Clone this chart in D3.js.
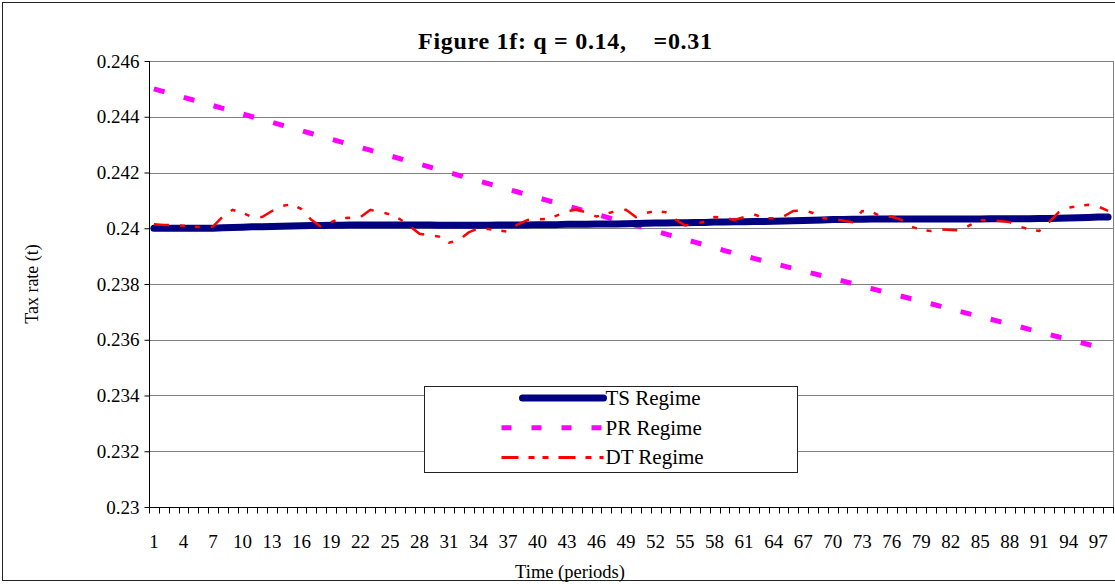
<!DOCTYPE html>
<head>
    <meta charset="utf-8">
    <script src="https://d3js.org/d3.v7.min.js"></script>
</head>
<body style="margin: 0; background: white">
    <div id="my_dataviz"></div>
    <script>
        // periods 1..98
        var periods = d3.range(1, 99)

        var tsValues = [
            0.24000, 0.24000, 0.24000, 0.24000, 0.24000, 0.24000, 0.24000, 0.24002, 0.24003, 0.24004,
            0.24005, 0.24005, 0.24006, 0.24007, 0.24008, 0.24009, 0.24010, 0.24010, 0.24011, 0.24011,
            0.24012, 0.24012, 0.24012, 0.24012, 0.24012, 0.24012, 0.24012, 0.24012, 0.24012, 0.24011,
            0.24011, 0.24011, 0.24011, 0.24011, 0.24011, 0.24012, 0.24012, 0.24012, 0.24012, 0.24013,
            0.24013, 0.24013, 0.24014, 0.24014, 0.24014, 0.24015, 0.24015, 0.24015, 0.24016, 0.24017,
            0.24018, 0.24019, 0.24019, 0.24020, 0.24020, 0.24021, 0.24021, 0.24022, 0.24022, 0.24023,
            0.24023, 0.24024, 0.24024, 0.24025, 0.24026, 0.24027, 0.24028, 0.24029, 0.24030, 0.24031,
            0.24031, 0.24032, 0.24032, 0.24033, 0.24033, 0.24033, 0.24033, 0.24033, 0.24033, 0.24033,
            0.24033, 0.24033, 0.24033, 0.24033, 0.24033, 0.24034, 0.24034, 0.24034, 0.24034, 0.24034,
            0.24035, 0.24035, 0.24036, 0.24037, 0.24038, 0.24039, 0.24040, 0.24040
        ]

        var prValues = [
            0.24500, 0.24490, 0.24480, 0.24470, 0.24460, 0.24450, 0.24440, 0.24430, 0.24420, 0.24410,
            0.24400, 0.24390, 0.24380, 0.24370, 0.24360, 0.24350, 0.24340, 0.24330, 0.24320, 0.24310,
            0.24300, 0.24290, 0.24280, 0.24270, 0.24260, 0.24250, 0.24240, 0.24230, 0.24220, 0.24210,
            0.24200, 0.24190, 0.24180, 0.24170, 0.24160, 0.24150, 0.24140, 0.24130, 0.24120, 0.24110,
            0.24100, 0.24090, 0.24080, 0.24070, 0.24060, 0.24050, 0.24040, 0.24030, 0.24020, 0.24010,
            0.24000, 0.23990, 0.23980, 0.23970, 0.23960, 0.23950, 0.23940, 0.23930, 0.23920, 0.23910,
            0.23901, 0.23892, 0.23883, 0.23874, 0.23865, 0.23856, 0.23847, 0.23838, 0.23829, 0.23820,
            0.23811, 0.23802, 0.23792, 0.23783, 0.23774, 0.23765, 0.23756, 0.23747, 0.23738, 0.23729,
            0.23720, 0.23710, 0.23701, 0.23692, 0.23683, 0.23674, 0.23665, 0.23656, 0.23647, 0.23637,
            0.23628, 0.23619, 0.23610, 0.23601, 0.23592, 0.23583, 0.23574, 0.23560
        ]

        var dtValues = [
            0.24014, 0.24012, 0.24011, 0.24009, 0.24006, 0.24004, 0.24006, 0.24042, 0.24066, 0.24055,
            0.24040, 0.24040, 0.24062, 0.24080, 0.24086, 0.24069, 0.24030, 0.24005, 0.24022, 0.24036,
            0.24038, 0.24040, 0.24066, 0.24058, 0.24050, 0.24033, 0.24008, 0.23980, 0.23975, 0.23970,
            0.23948, 0.23958, 0.23985, 0.24000, 0.23997, 0.23992, 0.23988, 0.24014, 0.24030, 0.24032,
            0.24034, 0.24046, 0.24060, 0.24068, 0.24056, 0.24042, 0.24052, 0.24062, 0.24066, 0.24040,
            0.24055, 0.24062, 0.24058, 0.24032, 0.24010, 0.24016, 0.24024, 0.24040, 0.24038, 0.24030,
            0.24040, 0.24050, 0.24036, 0.24036, 0.24042, 0.24062, 0.24064, 0.24055, 0.24037, 0.24033,
            0.24028, 0.24022, 0.24062, 0.24058, 0.24040, 0.24042, 0.24030, 0.24006, 0.23994, 0.23990,
            0.23996, 0.23994, 0.23992, 0.24012, 0.24030, 0.24028, 0.24026, 0.24022, 0.24006, 0.23996,
            0.23990, 0.24022, 0.24058, 0.24074, 0.24080, 0.24084, 0.24078, 0.24062
        ]

        var yTicks = [0.23, 0.232, 0.234, 0.236, 0.238, 0.24, 0.242, 0.244, 0.246]
        var xLabels = d3.range(1, 99, 3)
        var seriesNames = ["TS Regime", "PR Regime", "DT Regime"]

        var W = 1115, H = 584
        var margin = { left: 149, right: 1113, top: 61, bottom: 507 }
        var font = "'Liberation Serif', 'Times New Roman', serif"

        var svg = d3.select("#my_dataviz")
            .append("svg")
            .attr("width", W)
            .attr("height", H)
            .style("display", "block")

        // chart frame
        svg.append("rect")
            .attr("x", 2.5).attr("y", 2.5)
            .attr("width", W + 10).attr("height", 578)
            .attr("fill", "white")
            .attr("stroke", "#222")

        var x = d3.scaleBand()
            .domain(periods)
            .range([margin.left, margin.right])
        var y = d3.scaleLinear()
            .domain([0.23, 0.246])
            .range([margin.bottom, margin.top])
        var cx = function (p) { return x(p) + x.bandwidth() / 2 }

        // gridlines
        svg.append("g").selectAll("line")
            .data(yTicks.slice(1))
            .enter().append("line")
            .attr("x1", margin.left).attr("x2", margin.right)
            .attr("y1", function (d) { return Math.round(y(d)) + 0.5 })
            .attr("y2", function (d) { return Math.round(y(d)) + 0.5 })
            .attr("stroke", "#808080")
        svg.append("line")
            .attr("x1", margin.right + 0.5).attr("x2", margin.right + 0.5)
            .attr("y1", margin.top).attr("y2", margin.bottom)
            .attr("stroke", "#808080")

        // y axis
        var yAxis = svg.append("g")
            .attr("transform", "translate(" + (margin.left + 0.5) + ",0)")
            .call(d3.axisLeft(y).tickValues(yTicks).tickSize(5).tickPadding(5)
                .tickFormat(function (d) { return String(+d.toFixed(3)) }))
        yAxis.select(".domain").attr("stroke", "#000")
            .attr("d", "M0," + margin.top + "V" + margin.bottom)
        yAxis.selectAll(".tick line").attr("stroke", "#000")
        yAxis.selectAll("text").style("font-family", font).style("font-size", "19px").attr("fill", "#000")

        // x axis: ticks between categories, labels every third period
        var xAxis = svg.append("g")
            .attr("transform", "translate(0," + (margin.bottom + 0.5) + ")")
        xAxis.append("line")
            .attr("x1", margin.left).attr("x2", margin.right + 1)
            .attr("stroke", "#000")
        xAxis.selectAll(".tk")
            .data(periods.concat([99]))
            .enter().append("line")
            .attr("class", "tk")
            .attr("x1", function (d) { return Math.round(d == 99 ? margin.right : x(d)) + 0.5 })
            .attr("x2", function (d) { return Math.round(d == 99 ? margin.right : x(d)) + 0.5 })
            .attr("y1", 0).attr("y2", 6)
            .attr("stroke", "#000")
        xAxis.selectAll(".lb")
            .data(xLabels)
            .enter().append("text")
            .attr("class", "lb")
            .attr("x", function (d) { return cx(d) })
            .attr("y", 40)
            .attr("text-anchor", "middle")
            .style("font-family", font).style("font-size", "19px")
            .text(function (d) { return d })

        // lines
        var line = function (vals) {
            return d3.line()
                .x(function (d, i) { return cx(periods[i]) })
                .y(function (d) { return y(d) })(vals)
        }
        svg.append("path")
            .attr("d", line(prValues))
            .attr("fill", "none")
            .attr("stroke", "#FF00FF")
            .attr("stroke-width", 5)
            .attr("stroke-dasharray", "11,20")
        svg.append("path")
            .attr("d", line(tsValues))
            .attr("fill", "none")
            .attr("stroke", "#000080")
            .attr("stroke-width", 7)
            .attr("stroke-linecap", "round")
            .attr("stroke-linejoin", "round")
        svg.append("path")
            .attr("d", line(dtValues))
            .attr("fill", "none")
            .attr("stroke", "#FF0000")
            .attr("stroke-width", 2.5)
            .attr("stroke-dasharray", "15,11,5,10,5,11")

        // legend
        var lg = svg.append("g").attr("transform", "translate(424.5,386.5)")
        lg.append("rect")
            .attr("width", 373).attr("height", 86)
            .attr("fill", "white").attr("stroke", "#222")
        var styles = [
            { c: "#000080", w: 7, dash: null, cap: "round" },
            { c: "#FF00FF", w: 5, dash: "10,20", cap: "butt" },
            { c: "#FF0000", w: 3, dash: "17,10,6,8,6,10", cap: "butt" }
        ]
        seriesNames.forEach(function (name, i) {
            var yy = 11.5 + i * 29.7
            lg.append("line")
                .attr("x1", i == 0 ? 98 : 77).attr("x2", 179)
                .attr("y1", yy).attr("y2", yy)
                .attr("stroke", styles[i].c)
                .attr("stroke-width", styles[i].w)
                .attr("stroke-dasharray", styles[i].dash)
                .attr("stroke-linecap", styles[i].cap)
            lg.append("text")
                .attr("x", 181).attr("y", yy + 7)
                .style("font-family", font).style("font-size", "21px")
                .text(name)
        })

        // titles
        svg.append("text")
            .attr("x", 418).attr("y", 49)
            .attr("textLength", 294)
            .attr("lengthAdjust", "spacing")
            .attr("xml:space", "preserve")
            .style("white-space", "pre")
            .style("font-family", font).style("font-size", "24px").style("font-weight", "bold")
            .text("Figure 1f: q = 0.14,    =0.31")
        svg.append("text")
            .attr("x", 570).attr("y", 578)
            .attr("text-anchor", "middle")
            .style("font-family", font).style("font-size", "18.5px")
            .text("Time (periods)")
        svg.append("text")
            .attr("transform", "translate(38," + ((margin.top + margin.bottom) / 2) + ") rotate(-90)")
            .attr("text-anchor", "middle")
            .style("font-family", font).style("font-size", "18px")
            .text("Tax rate (t)")
    </script>
</body>
</html>
